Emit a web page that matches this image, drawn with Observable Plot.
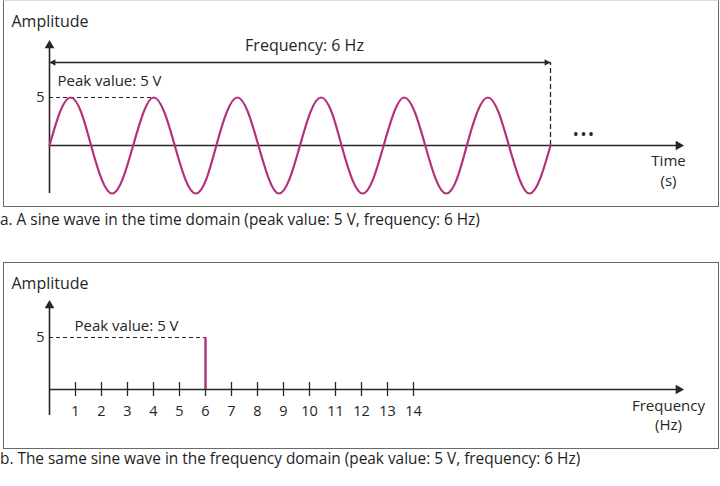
<!DOCTYPE html>
<html>
<head>
<meta charset="utf-8">
<script src="https://cdn.jsdelivr.net/npm/d3@7"></script>
<script src="https://cdn.jsdelivr.net/npm/@observablehq/plot@0.6"></script>
<style>
  html, body { margin:0; padding:0; background:#fff; width:720px; height:486px; overflow:hidden; }
  body { position:relative; font-family: "Open Sans", Lato, sans-serif; color:#222; }
  .box { position:absolute; border:1.5px solid #6a6a6a; box-sizing:border-box; }
  .cap { position:absolute; left:0; font-size:15.4px; white-space:nowrap; color:#1e1e1e; }
  .plot { position:absolute; left:0; }
</style>
</head>
<body>
<div class="box" style="left:3px; top:0px; width:716px; height:207px; border-top-color:#ddd;"></div>
<div class="cap" style="top:209px;">a. A sine wave in the time domain (peak value: 5 V, frequency: 6 Hz)</div>
<div class="box" style="left:3px; top:262px; width:716px; height:187px;"></div>
<div class="cap" style="top:448px;">b. The same sine wave in the frequency domain (peak value: 5 V, frequency: 6 Hz)</div>
<div id="pa" class="plot" style="top:0px;"></div>
<div id="pb" class="plot" style="top:240px;"></div>
<script>
// ---- data ----
// time domain: sine wave read at every eighth of a period (seconds, volts)
const timeS = [0, 0.021, 0.042, 0.063, 0.083, 0.104, 0.125, 0.146,
               0.167, 0.188, 0.208, 0.229, 0.25, 0.271, 0.292, 0.313,
               0.333, 0.354, 0.375, 0.396, 0.417, 0.438, 0.458, 0.479,
               0.5, 0.521, 0.542, 0.563, 0.583, 0.604, 0.625, 0.646,
               0.667, 0.688, 0.708, 0.729, 0.75, 0.771, 0.792, 0.813,
               0.833, 0.854, 0.875, 0.896, 0.917, 0.938, 0.958, 0.979, 1.0];
const volts = [0, 3.5, 5, 3.5, 0, -3.5, -5, -3.5,
               0, 3.5, 5, 3.5, 0, -3.5, -5, -3.5,
               0, 3.5, 5, 3.5, 0, -3.5, -5, -3.5,
               0, 3.5, 5, 3.5, 0, -3.5, -5, -3.5,
               0, 3.5, 5, 3.5, 0, -3.5, -5, -3.5,
               0, 3.5, 5, 3.5, 0, -3.5, -5, -3.5, 0];
const peakValue = 5;
const frequency = 6;
const secondPeakTime = 0.208;
// frequency domain
const freqs = [6];
const amps = [5];
const freqTicks = [1,2,3,4,5,6,7,8,9,10,11,12,13,14];

const magenta = "#b3307f";
const ink = "#262626";
const font = "'Open Sans', Lato, sans-serif";

const wave = timeS.map((t, i) => ({t, v: volts[i]}));
const spectrum = freqs.map((f, i) => ({f, a: amps[i]}));

// ---- panel a ----
const XA = px => (px - 49) / 501;   // pixel -> seconds
const YA = py => (145 - py) / 9.6;  // pixel -> volts
const pa = Plot.plot({
  width: 720, height: 210,
  x: {domain: [0, 1], range: [49, 550], axis: null},
  y: {domain: [-5, 5], range: [193, 97], axis: null},
  style: {fontFamily: font, fontSize: "14px", background: "transparent", overflow: "visible", color: ink},
  marks: [
    // axes
    Plot.ruleX([0], {y1: -5, y2: YA(46), stroke: ink, strokeWidth: 1.6}),
    Plot.dot([0], {x: 0, y: YA(45), symbol: "triangle", r: 3.6, fill: ink, stroke: null}),
    Plot.ruleY([0], {x1: 0, x2: XA(678), stroke: ink, strokeWidth: 1.6}),
    Plot.dot([0], {x: XA(678), y: 0, symbol: "triangle", r: 3.6, rotate: 90, fill: ink, stroke: null}),
    // frequency span arrow
    Plot.ruleY([YA(62)], {x1: 0, x2: 1, stroke: ink, strokeWidth: 1.3}),
    Plot.dot([0], {x: XA(53), y: YA(62), symbol: "triangle", r: 2.4, rotate: -90, fill: ink, stroke: null}),
    Plot.dot([0], {x: XA(546), y: YA(62), symbol: "triangle", r: 2.4, rotate: 90, fill: ink, stroke: null}),
    Plot.ruleX([1], {y1: 0, y2: YA(62), stroke: ink, strokeWidth: 1.3, strokeDasharray: "5,3"}),
    // peak dashed line
    Plot.ruleY([peakValue], {x1: 0, x2: secondPeakTime, stroke: ink, strokeWidth: 1.2, strokeDasharray: "4,3"}),
    // wave
    Plot.line(wave, {x: "t", y: "v", curve: "natural", stroke: magenta, strokeWidth: 2.2}),
    // labels
    Plot.text(["Amplitude"], {x: XA(11), y: YA(21), text: d => d, textAnchor: "start", fontSize: 16}),
    Plot.text([String(peakValue)], {x: XA(40), y: peakValue, text: d => d, fontSize: 14.5}),
    Plot.text([`Peak value: ${peakValue} V`], {x: XA(57), y: YA(81), text: d => d, textAnchor: "start", fontSize: 15}),
    Plot.text([`Frequency: ${frequency} Hz`], {x: XA(304), y: YA(45), text: d => d, fontSize: 16}),
    Plot.text(["• • •"], {x: XA(583), y: YA(135), text: d => d, fontSize: 12, fontWeight: "bold"}),
    Plot.text(["Time"], {x: XA(668), y: YA(161), text: d => d, fontSize: 15}),
    Plot.text(["(s)"], {x: XA(668), y: YA(181), text: d => d, fontSize: 15})
  ]
});
document.getElementById("pa").appendChild(pa);

// ---- panel b ----
const XB = px => (px - 49) / 26;     // pixel -> Hz
const YB = py => (149 - py) / 10.4;  // pixel -> volts
const pb = Plot.plot({
  width: 720, height: 210,
  x: {domain: [0, 14], range: [49, 413], axis: null},
  y: {domain: [0, 5], range: [149, 97], axis: null},
  style: {fontFamily: font, fontSize: "14px", background: "transparent", overflow: "visible", color: ink},
  marks: [
    Plot.ruleX([0], {y1: YB(175), y2: YB(66), stroke: ink, strokeWidth: 1.6}),
    Plot.dot([0], {x: 0, y: YB(65), symbol: "triangle", r: 3.6, fill: ink, stroke: null}),
    Plot.ruleY([0], {x1: 0, x2: XB(678), stroke: ink, strokeWidth: 1.6}),
    Plot.dot([0], {x: XB(678), y: 0, symbol: "triangle", r: 3.6, rotate: 90, fill: ink, stroke: null}),
    Plot.ruleX(freqTicks, {x: d => d, y1: YB(156), y2: YB(142), stroke: ink, strokeWidth: 1.3}),
    Plot.text(freqTicks, {x: d => d, y: YB(171), text: d => String(d), fontSize: 14.5}),
    Plot.ruleY([peakValue], {x1: 0, x2: frequency, stroke: ink, strokeWidth: 1.2, strokeDasharray: "4,3"}),
    Plot.ruleX(spectrum, {x: "f", y1: 0, y2: "a", stroke: magenta, strokeWidth: 2.4}),
    Plot.text(["Amplitude"], {x: XB(11), y: YB(43), text: d => d, textAnchor: "start", fontSize: 16}),
    Plot.text([String(peakValue)], {x: XB(40), y: peakValue, text: d => d, fontSize: 14.5}),
    Plot.text([`Peak value: ${peakValue} V`], {x: XB(74), y: YB(86), text: d => d, textAnchor: "start", fontSize: 15}),
    Plot.text(["Frequency"], {x: XB(668), y: YB(166), text: d => d, fontSize: 15}),
    Plot.text(["(Hz)"], {x: XB(668), y: YB(185), text: d => d, fontSize: 15})
  ]
});
document.getElementById("pb").appendChild(pb);
</script>
</body>
</html>
